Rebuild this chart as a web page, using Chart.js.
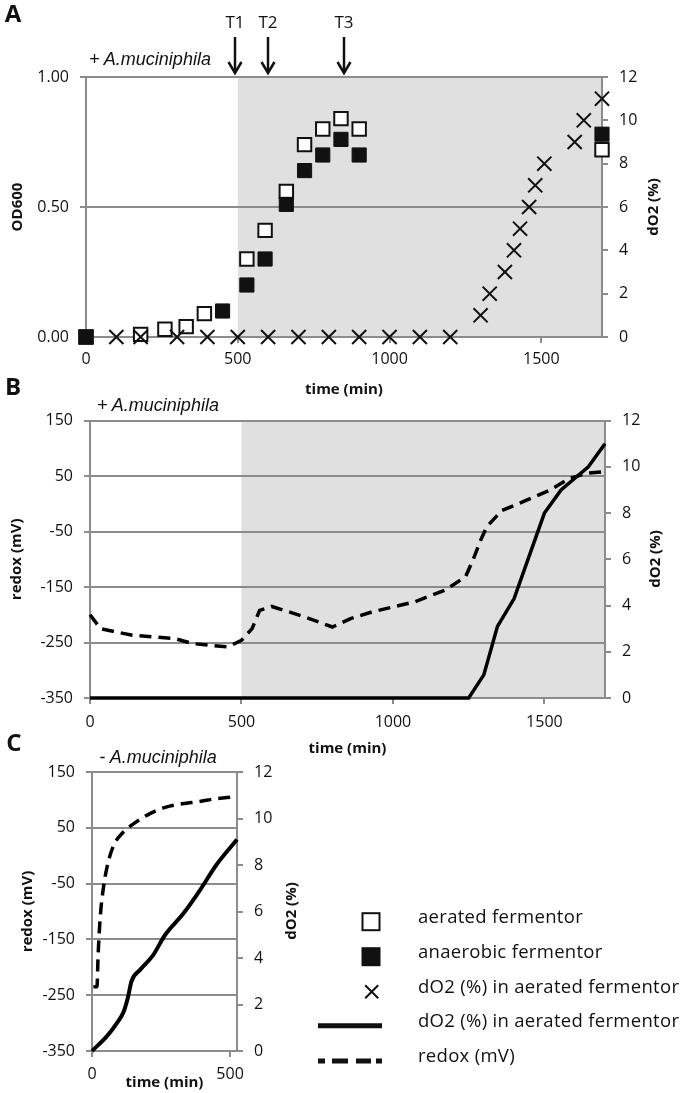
<!DOCTYPE html>
<html>
<head>
<meta charset="utf-8">
<script src="https://cdn.jsdelivr.net/npm/chart.js@4.4.1/dist/chart.umd.min.js"></script>
<style>
html,body{margin:0;padding:0;background:#fff;}
body{width:680px;height:1093px;position:relative;overflow:hidden;font-family:'Open Sans',sans-serif;color:#111;}
canvas{position:absolute;}
.panel{position:absolute;font-family:'Open Sans',sans-serif;font-weight:bold;font-size:24px;transform:translate(-50%,-50%);line-height:1;}
.it{position:absolute;white-space:nowrap;font-family:'Liberation Sans',Arial,sans-serif;font-style:italic;font-size:18px;line-height:20px;transform:translateY(-50%);}
.rot{position:absolute;white-space:nowrap;font-weight:bold;font-size:15px;line-height:18px;transform:translate(-50%,-50%) rotate(-90deg);}
.lg{position:absolute;white-space:nowrap;font-size:18.5px;letter-spacing:0.3px;line-height:20px;left:418px;}
</style>
</head>
<body>
<canvas id="cA" width="680" height="400" style="left:0;top:0"></canvas>
<canvas id="cB" width="680" height="365" style="left:0;top:400px"></canvas>
<canvas id="cC" width="300" height="353" style="left:0;top:740px"></canvas>

<div class="panel" style="left:13px;top:13px">A</div>
<div class="panel" style="left:13px;top:386px">B</div>
<div class="panel" style="left:14px;top:742px">C</div>

<div class="it" style="left:89px;top:59px">+ A.muciniphila</div>
<div class="it" style="left:97px;top:405px">+ A.muciniphila</div>
<div class="it" style="left:158px;top:757px;transform:translate(-50%,-50%)">- A.muciniphila</div>

<div class="rot" style="left:652px;top:207px">dO2 (%)</div>
<div class="rot" style="left:654px;top:559px">dO2 (%)</div>
<div class="rot" style="left:290px;top:911px">dO2 (%)</div>

<svg width="680" height="1093" style="position:absolute;left:0;top:0;pointer-events:none">
  <rect x="362.5" y="913.2" width="17" height="17" fill="#fff" stroke="#111" stroke-width="2"/>
  <rect x="361.5" y="947.2" width="19" height="19" fill="#111"/>
  <path d="M365.2 985.2 L378.2 998.2 M378.2 985.2 L365.2 998.2" stroke="#111" stroke-width="2"/>
  <line x1="318" y1="1025.7" x2="382" y2="1025.7" stroke="#111" stroke-width="5"/>
  <rect x="318" y="1058.5" width="7" height="5" fill="#111"/>
  <rect x="332" y="1058.5" width="16" height="5" fill="#111"/>
  <rect x="356" y="1058.5" width="15" height="5" fill="#111"/>
  <rect x="376" y="1058.5" width="6" height="5" fill="#111"/>
</svg>
<div class="lg" style="top:906px">aerated fermentor</div>
<div class="lg" style="top:941px">anaerobic fermentor</div>
<div class="lg" style="top:976px">dO2 (%) in aerated fermentor</div>
<div class="lg" style="top:1010px">dO2 (%) in aerated fermentor</div>
<div class="lg" style="top:1045px">redox (mV)</div>

<script>
// ---------- DATA ----------
// Panel A: OD600 of the two fermentors (time in min)
const odTimesAerated   = [0, 180, 260, 330, 390, 530, 590, 660, 720, 780, 840, 900, 1700];
const odAerated        = [0, 0.01, 0.03, 0.04, 0.09, 0.30, 0.41, 0.56, 0.74, 0.80, 0.84, 0.80, 0.72];
const odTimesAnaerobic = [0, 450, 530, 590, 660, 720, 780, 840, 900, 1700];
const odAnaerobic      = [0, 0.10, 0.20, 0.30, 0.51, 0.64, 0.70, 0.76, 0.70, 0.78];
// Panel A: dO2 (%) markers in aerated fermentor
const dO2Times   = [0, 100, 180, 300, 400, 500, 600, 700, 800, 900, 1000, 1100, 1200, 1300, 1330, 1380, 1410, 1430, 1460, 1480, 1510, 1610, 1640, 1700];
const dO2Markers = [0, 0, 0, 0, 0, 0, 0, 0, 0, 0, 0, 0, 0, 1, 2, 3, 4, 5, 6, 7, 8, 9, 10, 11];
// Sampling time points
const sampleTimes  = [490, 600, 850];
const sampleLabels = ['T1', 'T2', 'T3'];
// Panel B: redox (mV) and dO2 (%) traces
const redoxTimesB = [0, 35, 140, 280, 340, 455, 500, 535, 560, 600, 710, 800, 860, 930, 1070, 1175, 1240, 1265, 1290, 1310, 1360, 1430, 1520, 1580, 1640, 1700];
const redoxB      = [-200, -225, -237, -243, -252, -258, -246, -225, -192, -185, -204, -222, -207, -195, -177, -155, -131, -100, -65, -41, -12, 4, 25, 45, 55, 58];
const dO2TimesB   = [0, 1250, 1300, 1345, 1400, 1500, 1555, 1645, 1700];
const dO2LineB    = [0, 0, 1, 3.1, 4.3, 8, 9, 10, 11];
// Panel C: without A. muciniphila
const redoxTimesC = [5, 18, 22, 30, 42, 55, 77, 113, 150, 208, 268, 327, 387, 446, 506, 525];
const redoxC      = [-235, -235, -180, -109, -55, -19, 17, 42, 57, 75, 87, 93, 97, 102, 105, 107];
const dO2TimesC   = [0, 55, 90, 115, 130, 143, 175, 220, 265, 330, 390, 450, 525];
const dO2LineC    = [0, 0.65, 1.2, 1.7, 2.3, 3.0, 3.5, 4.1, 5.0, 5.9, 6.9, 8.0, 9.1];
// Axes
const timeTicksAB = [0, 500, 1000, 1500];
const timeTicksC  = [0, 500];
const odTicks     = [0, 0.5, 1];
const redoxTicks  = [-350, -250, -150, -50, 50, 150];
const dO2Ticks    = [0, 2, 4, 6, 8, 10, 12];
const shadeRange  = [500, 1700];

// ---------- HELPERS ----------
const GRID = '#8c8c8c';
const TXT = '#111';
Chart.defaults.font.family = "'Open Sans', sans-serif";
Chart.defaults.color = TXT;
function xy(xs, ys) { return xs.map((x, i) => ({x: x, y: ys[i]})); }
function setTicks(arr) { return s => { s.ticks = arr.map(v => ({value: v})); }; }

const shadePlugin = {
  id: 'shade',
  beforeDraw(chart, args, opts) {
    if (!opts || !opts.range) return;
    const {ctx, chartArea, scales} = chart;
    const x0 = scales.x.getPixelForValue(opts.range[0]);
    const x1 = scales.x.getPixelForValue(opts.range[1]);
    ctx.save();
    ctx.fillStyle = opts.color;
    ctx.fillRect(x0, chartArea.top, x1 - x0, chartArea.bottom - chartArea.top);
    ctx.restore();
  }
};

const arrowPlugin = {
  id: 'arrows',
  afterDraw(chart, args, opts) {
    if (!opts || !opts.times) return;
    const {ctx, scales} = chart;
    opts.times.forEach((t, i) => {
      const px = Math.round(scales.x.getPixelForValue(t));
      ctx.save();
      ctx.strokeStyle = TXT; ctx.fillStyle = TXT; ctx.lineWidth = 2.5;
      ctx.beginPath(); ctx.moveTo(px, 37); ctx.lineTo(px, 72); ctx.stroke();
      ctx.beginPath(); ctx.moveTo(px - 6.5, 62); ctx.lineTo(px, 73); ctx.lineTo(px + 6.5, 62); ctx.stroke();
      ctx.font = "17px 'Open Sans'"; ctx.textAlign = 'center'; ctx.textBaseline = 'middle';
      ctx.fillText(opts.labels[i], px, 23);
      ctx.restore();
    });
  }
};

function xAxis(max, ticks, height, tickPad, titlePad) {
  return {
    type: 'linear', position: 'bottom', min: 0, max: max,
    afterBuildTicks: setTicks(ticks),
    afterFit: s => { s.height = height; },
    grid: {drawOnChartArea: false, drawTicks: true, tickLength: 6, color: GRID, lineWidth: 2},
    border: {display: true, color: GRID, width: 2},
    ticks: {color: TXT, font: {size: 16}, padding: tickPad, maxRotation: 0, autoSkip: false, callback: v => String(v)},
    title: {display: true, text: 'time (min)', color: TXT, font: {size: 15, weight: 'bold'}, padding: {top: 0, bottom: titlePad}}
  };
}
function leftAxis(min, max, ticks, width, title, titlePad, fmt) {
  return {
    type: 'linear', position: 'left', min: min, max: max,
    afterBuildTicks: setTicks(ticks),
    afterFit: s => { s.width = width; },
    grid: {color: GRID, lineWidth: 2, tickLength: 6},
    border: {display: true, color: GRID, width: 2},
    ticks: {color: TXT, font: {size: 16}, padding: 11, callback: fmt || (v => String(v))},
    title: {display: true, text: title, color: TXT, font: {size: 15, weight: 'bold'}, padding: {top: titlePad, bottom: 0}}
  };
}
function rightAxis(width) {
  return {
    type: 'linear', position: 'right', min: 0, max: 12,
    afterBuildTicks: setTicks(dO2Ticks),
    afterFit: s => { s.width = width; },
    grid: {drawOnChartArea: false, drawTicks: true, color: GRID, lineWidth: 2, tickLength: 6},
    border: {display: true, color: GRID, width: 2},
    ticks: {color: TXT, font: {size: 16}, padding: 11, callback: v => String(v)}
  };
}
const common = {
  responsive: false, animation: false, devicePixelRatio: 1, events: []
};

// ---------- PANEL A ----------
new Chart(document.getElementById('cA'), {
  type: 'scatter',
  data: {
    datasets: [
      {label: 'dO2 (%) in aerated fermentor', data: xy(dO2Times, dO2Markers), yAxisID: 'y2',
       pointStyle: 'crossRot', pointRadius: 10, borderColor: TXT, backgroundColor: TXT, borderWidth: 2, order: 0, clip: false},
      {label: 'anaerobic fermentor', data: xy(odTimesAnaerobic, odAnaerobic), yAxisID: 'y',
       pointStyle: 'rect', pointRadius: 10, borderColor: TXT, backgroundColor: TXT, borderWidth: 1, order: 1, clip: false},
      {label: 'aerated fermentor', data: xy(odTimesAerated, odAerated), yAxisID: 'y',
       pointStyle: 'rect', pointRadius: 9.5, borderColor: TXT, backgroundColor: '#fff', borderWidth: 2, order: 2, clip: false}
    ]
  },
  options: Object.assign({}, common, {
    layout: {padding: {top: 77, left: 0, right: 0, bottom: 0}},
    plugins: {legend: {display: false}, tooltip: {enabled: false},
      shade: {range: shadeRange, color: '#e0e0e0'},
      arrows: {times: sampleTimes, labels: sampleLabels}},
    scales: {
      x: xAxis(1700, timeTicksAB, 63, 7, 1),
      y: leftAxis(0, 1, odTicks, 86, 'OD600', 9, v => v.toFixed(2)),
      y2: rightAxis(78)
    }
  }),
  plugins: [shadePlugin, arrowPlugin]
});

// ---------- PANEL B ----------
new Chart(document.getElementById('cB'), {
  type: 'line',
  data: {
    datasets: [
      {label: 'dO2 (%) in aerated fermentor', data: xy(dO2TimesB, dO2LineB), yAxisID: 'y2',
       borderColor: '#000', borderWidth: 3.5, pointRadius: 0, tension: 0, clip: false, order: 0},
      {label: 'redox (mV)', data: xy(redoxTimesB, redoxB), yAxisID: 'y',
       borderColor: '#000', borderWidth: 3.5, borderDash: [12, 7], pointRadius: 0, tension: 0, clip: false, order: 1}
    ]
  },
  options: Object.assign({}, common, {
    layout: {padding: {top: 20, left: 0, right: 0, bottom: 0}},
    plugins: {legend: {display: false}, tooltip: {enabled: false},
      shade: {range: shadeRange, color: '#e0e0e0'}},
    scales: {
      x: xAxis(1700, timeTicksAB, 67, 9, 7),
      y: leftAxis(-350, 150, redoxTicks, 90, 'redox (mV)', 8),
      y2: rightAxis(75)
    }
  }),
  plugins: [shadePlugin]
});

// ---------- PANEL C ----------
new Chart(document.getElementById('cC'), {
  type: 'line',
  data: {
    datasets: [
      {label: 'dO2 (%) in aerated fermentor', data: xy(dO2TimesC, dO2LineC), yAxisID: 'y2',
       borderColor: '#000', borderWidth: 4, pointRadius: 0, cubicInterpolationMode: 'monotone', clip: false, order: 0},
      {label: 'redox (mV)', data: xy(redoxTimesC, redoxC), yAxisID: 'y',
       borderColor: '#000', borderWidth: 3.5, borderDash: [12, 7], pointRadius: 0, cubicInterpolationMode: 'monotone', clip: false, order: 1}
    ]
  },
  options: Object.assign({}, common, {
    layout: {padding: {top: 32, left: 0, right: 0, bottom: 0}},
    plugins: {legend: {display: false}, tooltip: {enabled: false}},
    scales: {
      x: xAxis(525, timeTicksC, 42, 8, 1),
      y: leftAxis(-350, 150, redoxTicks, 92, 'redox (mV)', 19),
      y2: rightAxis(63)
    }
  })
});
</script>
</body>
</html>
